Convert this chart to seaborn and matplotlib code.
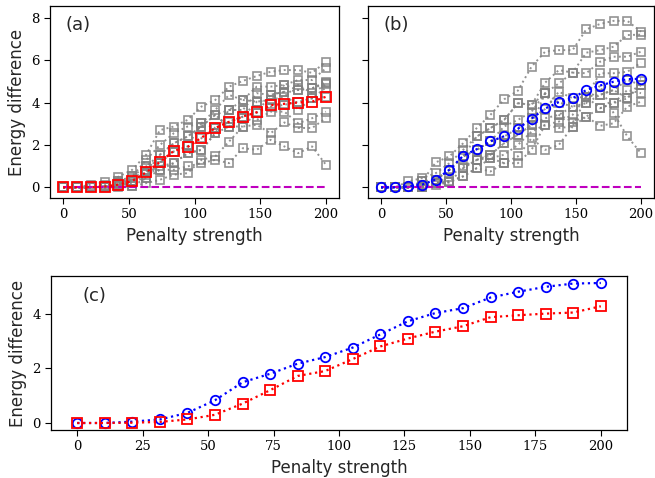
import numpy as np
import matplotlib
matplotlib.use("Agg")
import matplotlib.pyplot as plt
import seaborn as sns

sns.set_style("ticks")
plt.rcParams['font.family'] = ['DejaVu Sans']

# penalty strengths (x values)
penalty = [0, 10.5, 21.1, 31.6, 42.1, 52.6, 63.2, 73.7, 84.2, 94.7,
           105.3, 115.8, 126.3, 136.8, 147.4, 157.9, 168.4, 178.9, 189.5, 200]

# mean curves
mean_a = [0, 0, 0.01, 0.04, 0.13, 0.3, 0.71, 1.2, 1.72, 1.9,
          2.34, 2.8, 3.09, 3.34, 3.54, 3.87, 3.94, 4.0, 4.04, 4.27]
mean_b = [0, 0, 0.05, 0.13, 0.37, 0.83, 1.49, 1.8, 2.17, 2.41,
          2.76, 3.24, 3.72, 4.02, 4.2, 4.59, 4.8, 4.98, 5.1, 5.12]

# individual runs, panel (a)
runs_a = [
    [0, 0, 0, 0.1, 0.5, 0.83, 1.54, 2.7, 2.87, 3.18, 3.81, 4.12, 4.75, 5.02, 5.25, 5.45, 5.53, 5.53, 5.4, 5.92],
    [0, 0, 0.13, 0.24, 0.3, 0.52, 1.3, 2.0, 2.55, 2.87, 3.02, 3.65, 4.36, 4.12, 4.75, 4.75, 4.83, 5.06, 5.06, 5.61],
    [0, 0, 0, 0.05, 0.28, 0.3, 0.99, 1.54, 2.08, 2.4, 2.87, 3.42, 3.65, 3.65, 4.44, 4.36, 4.51, 4.59, 4.67, 4.98],
    [0, 0, 0, 0, 0.2, 0.05, 0.44, 1.17, 1.69, 1.93, 2.32, 2.8, 3.1, 3.34, 4.04, 4.12, 4.28, 4.83, 4.44, 4.85],
    [0, 0, 0, 0, 0.2, 0.3, 0.71, 1.0, 1.14, 1.61, 1.77, 2.55, 2.87, 2.87, 3.53, 3.81, 3.89, 4.04, 4.2, 4.7],
    [0, 0, 0, 0, 0.05, 0.3, 0.44, 0.83, 0.83, 0.99, 1.14, 1.3, 1.14, 1.85, 1.77, 2.24, 1.93, 1.61, 1.93, 1.07],
    [0, 0, 0, 0, 0, 0.05, 0.2, 0.36, 0.6, 0.67, 1.3, 1.46, 2.16, 2.87, 2.95, 2.55, 3.06, 2.8, 2.8, 3.26],
    [0, 0, 0, 0, 0.1, 0.3, 0.71, 0.83, 1.14, 1.61, 1.77, 2.55, 3.65, 3.65, 3.18, 3.57, 3.57, 3.02, 3.26, 3.57],
    [0, 0, 0, 0, 0.1, 0.2, 0.71, 1.54, 2.08, 2.4, 2.87, 3.42, 2.87, 3.34, 3.53, 4.36, 4.51, 3.65, 4.2, 4.28],
    [0, 0, 0, 0, 0.2, 0.52, 0.99, 1.17, 1.69, 1.93, 3.02, 2.8, 3.65, 4.12, 4.04, 4.12, 4.83, 4.59, 4.67, 4.9],
]

# individual runs, panel (b)
runs_b = [
    [0, 0, 0, 0.28, 1.18, 1.46, 2.08, 2.8, 3.42, 4.15, 4.56, 5.69, 6.4, 6.47, 6.47, 7.45, 7.7, 7.85, 7.85, 7.34],
    [0, 0, 0.28, 0.44, 0.67, 1.14, 1.77, 2.4, 2.8, 3.18, 3.97, 3.89, 4.94, 5.53, 5.41, 6.35, 6.47, 6.63, 7.18, 7.2],
    [0, 0, 0, 0.28, 0.36, 0.83, 1.46, 1.77, 2.17, 2.87, 3.18, 3.57, 4.44, 4.9, 5.41, 5.38, 5.92, 6.16, 6.16, 6.4],
    [0, 0, 0, 0.1, 0.36, 0.83, 1.46, 1.77, 2.17, 2.4, 2.78, 3.25, 3.7, 4.51, 4.2, 4.28, 5.38, 5.38, 5.45, 5.88],
    [0, 0, 0, 0, 0.2, 0.24, 0.91, 1.3, 1.54, 2.08, 2.48, 2.95, 3.26, 3.42, 3.81, 3.97, 4.36, 4.59, 5.06, 4.83],
    [0, 0, 0, 0, 0.36, 0.83, 0.91, 1.3, 1.38, 1.54, 2.0, 2.63, 2.95, 3.1, 3.42, 4.28, 3.73, 3.97, 4.59, 4.44],
    [0, 0, 0, 0, 0.1, 0.24, 0.52, 0.91, 0.75, 1.14, 1.46, 2.32, 1.77, 2.0, 2.87, 3.34, 2.9, 3.02, 3.81, 4.04],
    [0, 0, 0, 0, 0.2, 0.5, 1.0, 1.3, 1.54, 2.08, 2.48, 2.95, 4.44, 4.0, 3.81, 3.97, 4.8, 3.5, 2.4, 1.61],
    [0, 0, 0, 0.1, 0.36, 0.83, 1.46, 2.4, 2.8, 3.18, 3.97, 3.89, 4.44, 3.42, 3.1, 3.34, 3.73, 3.97, 4.2, 4.83],
    [0, 0, 0, 0, 0.2, 0.3, 0.52, 0.91, 1.38, 1.14, 1.14, 1.77, 2.95, 2.8, 2.87, 4.28, 4.36, 4.59, 4.2, 5.0],
]

W, H = 655, 478
fig = plt.figure(figsize=(W / 100, H / 100), dpi=100)


def px_axes(left, right, top, bottom):
    return fig.add_axes([left / W, 1 - bottom / H, (right - left) / W, (bottom - top) / H])


ax_a = px_axes(50, 339, 6, 198)
ax_b = px_axes(368, 654, 6, 198)
ax_c = px_axes(51, 627, 276, 430)

gray_kw = dict(color='gray', linestyle=':', linewidth=1.4, marker='s', markersize=6.2,
               markerfacecolor='none', markeredgecolor='gray', markeredgewidth=1.2, alpha=0.85)
red_kw = dict(color='red', linestyle=':', linewidth=1.6, marker='s', markersize=6.8,
              markerfacecolor='none', markeredgecolor='red', markeredgewidth=1.3)
blue_kw = dict(color='blue', linestyle=':', linewidth=1.6, marker='o', markersize=6.8,
               markerfacecolor='none', markeredgecolor='blue', markeredgewidth=1.3)

for ax, runs, mean, kw in [(ax_a, runs_a, mean_a, red_kw), (ax_b, runs_b, mean_b, blue_kw)]:
    for r in runs:
        sns.lineplot(x=penalty, y=r, ax=ax, **gray_kw)
    ax.plot([penalty[0], penalty[-1]], [0, 0], color='m', linestyle='--', linewidth=1.5)
    sns.lineplot(x=penalty, y=mean, ax=ax, **kw)
    ax.set_ylim(-0.5, 8.55)
    ax.set_xticks([0, 50, 100, 150, 200])
    ax.set_yticks([0, 2, 4, 6, 8])
    ax.set_xlabel('Penalty strength', fontsize=12)

ax_a.set_ylabel('Energy difference', fontsize=12)
ax_b.set_yticklabels([])

sns.lineplot(x=penalty, y=mean_b, ax=ax_c, **blue_kw)
sns.lineplot(x=penalty, y=mean_a, ax=ax_c, **red_kw)
ax_c.set_xticks([0, 25, 50, 75, 100, 125, 150, 175, 200])
ax_c.set_yticks([0, 2, 4])
ax_c.set_xlabel('Penalty strength', fontsize=12)
ax_c.set_ylabel('Energy difference', fontsize=12)

for ax, lab in [(ax_a, '(a)'), (ax_b, '(b)'), (ax_c, '(c)')]:
    ax.text(0.055, 0.95 if ax is not ax_c else 0.93, lab, transform=ax.transAxes,
            fontsize=13, va='top', ha='left')
    for t in ax.get_xticklabels() + ax.get_yticklabels():
        t.set_fontfamily('DejaVu Serif')
        t.set_fontsize(9.5)
    ax.tick_params(length=4, width=0.8, colors='black')
    for s in ax.spines.values():
        s.set_linewidth(0.9)
        s.set_color('black')

fig.savefig('out.png', dpi=100)
